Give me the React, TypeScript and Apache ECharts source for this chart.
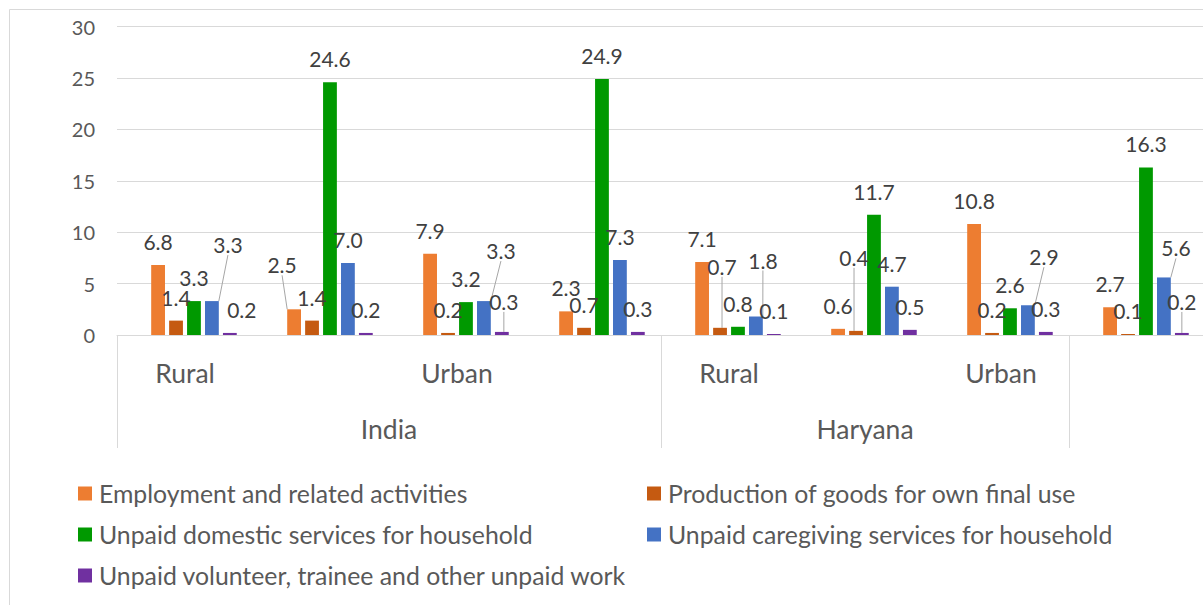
import React, { useEffect, useRef } from "react";
import * as echarts from "echarts";

// ---------- data ----------
const subCategories = ["Rural", "", "Urban", "", "Rural", "", "Urban", ""];
const groupNames = ["India", "Haryana"];
const groupSizes = [4, 3];

const seriesNames = [
  "Employment and related activities",
  "Production of goods for own final use",
  "Unpaid domestic services for household",
  "Unpaid caregiving services for household",
  "Unpaid volunteer, trainee and other unpaid work",
];
const employment = [6.8, 2.5, 7.9, 2.3, 7.1, 0.6, 10.8, 2.7];
const production = [1.4, 1.4, 0.2, 0.7, 0.7, 0.4, 0.2, 0.1];
const domestic = [3.3, 24.6, 3.2, 24.9, 0.8, 11.7, 2.6, 16.3];
const caregiving = [3.3, 7.0, 3.3, 7.3, 1.8, 4.7, 2.9, 5.6];
const volunteer = [0.2, 0.2, 0.3, 0.3, 0.1, 0.5, 0.3, 0.2];

const yTicks = [0, 5, 10, 15, 20, 25, 30];

// ---------- styling / layout ----------
const FONT = "Lato, 'Noto Sans', sans-serif";
const colors = ["#ED7D31", "#C55A11", "#009900", "#4472C4", "#7030A0"];
// label nudges: [series, category, dx, dy, leaderLine]
const labelNudges: [number, number, number, number, boolean][] = [
  [3, 0, 16, -33, true],
  [4, 0, 12, 0, false],
  [0, 1, -12, -21, true],
  [3, 2, 17, -27, true],
  [4, 2, 2, -7, true],
  [1, 4, 2, -38, true],
  [3, 4, 7, -33, true],
  [1, 5, -2, -50, true],
  [3, 6, 16, -25, true],
  [3, 7, 12, -6, true],
  [4, 7, 0, -8, true],
];
const findNudge = (s: number, c: number) =>
  labelNudges.find((n) => n[0] === s && n[1] === c);

export default function App() {
  const ref = useRef<HTMLDivElement>(null);
  useEffect(() => {
    if (!ref.current) return;
    const chart = echarts.init(ref.current, undefined, { renderer: "svg" });
    const values = [employment, production, domestic, caregiving, volunteer];

    const groupEdges: number[] = [0];
    groupSizes.forEach((g) => groupEdges.push(groupEdges[groupEdges.length - 1] + g));
    const groupCenters = groupSizes.map((g, i) => groupEdges[i] + g / 2);

    const barCommon = { type: "bar", barWidth: 13.8, barGap: "30%" };
    const series: any[] = [
      { ...barCommon, name: "_spacer", data: [], silent: true },
      ...values.map((vals, s) => ({
        ...barCommon,
        name: seriesNames[s],
        itemStyle: { color: colors[s] },
        data: vals.map((v, c) => {
          const n = findNudge(s, c);
          if (n && n[4]) {
            return {
              value: v,
              labelLine: { show: true, lineStyle: { color: "#a6a6a6", width: 1 } },
            };
          }
          return v;
        }),
        label: {
          show: true,
          position: "top",
          distance: 13,
          formatter: (p: any) => Number(p.value).toFixed(1),
          color: "#404040",
          fontSize: 21,
          fontFamily: FONT,
        },
        labelLine: { show: false, lineStyle: { color: "#a6a6a6", width: 1 } },
        labelLayout: (p: any) => {
          const n = findNudge(s, p.dataIndex);
          return n ? { dx: n[2], dy: n[3] } : {};
        },
      })),
    ];

    const legendCommon = {
      orient: "vertical",
      top: 476,
      padding: 5,
      icon: "rect",
      itemWidth: 14,
      itemHeight: 14,
      itemGap: 16,
      textStyle: { fontSize: 24.8, color: "#595959", fontFamily: FONT, padding: [0, 0, 0, 2] },
    };

    chart.setOption({
      animation: false,
      backgroundColor: "#ffffff",
      textStyle: { fontFamily: FONT },
      grid: {
        left: 117,
        right: 5,
        top: 26.7,
        bottom: 270,
        containLabel: false,
        outerBoundsMode: "none",
      },
      graphic: [
        {
          type: "rect",
          silent: true,
          z: -10,
          shape: { x: 9.5, y: 9.5, width: 1400, height: 800 },
          style: { fill: "none", stroke: "#d9d9d9", lineWidth: 1 },
        },
      ],
      legend: [
        { ...legendCommon, left: 73, data: [seriesNames[0], seriesNames[2], seriesNames[4]] },
        { ...legendCommon, left: 642, data: [seriesNames[1], seriesNames[3]] },
      ],
      xAxis: [
        {
          type: "category",
          data: subCategories,
          boundaryGap: true,
          axisLine: { show: true, lineStyle: { color: "#d9d9d9", width: 1 } },
          axisTick: { show: false },
          axisLabel: {
            interval: 0,
            margin: 24,
            fontSize: 26.5,
            color: "#595959",
            fontFamily: FONT,
          },
          splitLine: { show: false },
        },
        {
          type: "value",
          min: 0,
          max: subCategories.length,
          position: "bottom",
          axisLine: { show: false },
          splitLine: { show: false },
          axisTick: {
            show: true,
            customValues: groupEdges,
            length: 113,
            lineStyle: { color: "#d9d9d9", width: 1 },
          },
          axisLabel: {
            show: true,
            customValues: groupCenters,
            formatter: (v: number) => {
              const i = groupCenters.indexOf(v);
              return i >= 0 ? groupNames[i] : "";
            },
            margin: 80.5,
            fontSize: 26.5,
            color: "#595959",
            fontFamily: FONT,
          },
        },
      ],
      yAxis: {
        type: "value",
        min: yTicks[0],
        max: yTicks[yTicks.length - 1],
        interval: yTicks[1] - yTicks[0],
        axisLine: { show: false },
        axisTick: { show: false },
        splitLine: { lineStyle: { color: "#d9d9d9", width: 1 } },
        axisLabel: { margin: 22, fontSize: 20, color: "#595959", fontFamily: FONT },
      },
      series,
    });
    return () => chart.dispose();
  }, []);

  return (
    <div
      style={{
        position: "fixed",
        left: 0,
        top: 0,
        width: 1203,
        height: 605,
        overflow: "hidden",
        background: "#fff",
      }}
    >
      <div ref={ref} style={{ width: 1210, height: 605 }} />
    </div>
  );
}
